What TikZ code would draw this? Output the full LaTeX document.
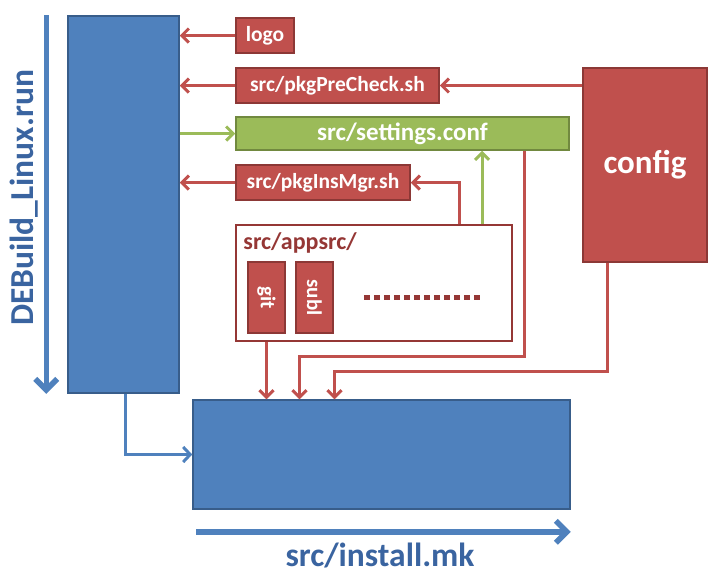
\documentclass[tikz,border=0pt]{standalone}
\usepackage{fontspec}
\setmainfont{Carlito}
\usetikzlibrary{arrows.meta}

\definecolor{boxblue}{HTML}{4F81BD}
\definecolor{lineblue}{HTML}{385D8A}
\definecolor{boxred}{HTML}{C0504D}
\definecolor{linered}{HTML}{8C3836}
\definecolor{boxgreen}{HTML}{9BBB59}
\definecolor{linegreen}{HTML}{71893F}
\definecolor{darkred}{HTML}{953735}
\definecolor{textblue}{HTML}{3A64A0}

\begin{document}
\begin{tikzpicture}[x=1pt,y=-1pt]

    \tikzstyle{box} = [draw, line width=1.5, inner sep=0, text=white, font=\bfseries\fontsize{21.5}{24}\selectfont]
    \tikzstyle{bluebox} = [box, fill=boxblue, draw=lineblue]
    \tikzstyle{redbox} = [box, fill=boxred, draw=linered]
    \tikzstyle{greenbox} = [box, fill=boxgreen, draw=linegreen]
    \tikzstyle{redarrow} = [boxred, line width=3, -{Straight Barb[length=7pt,width=14pt]}]
    \tikzstyle{greenarrow} = [boxgreen, line width=3, -{Straight Barb[length=7pt,width=14pt]}]
    \tikzstyle{bluearrow} = [boxblue, line width=3, -{Straight Barb[length=7pt,width=15pt]}]
    \tikzstyle{bigarrow} = [boxblue, line width=5.5, -{Straight Barb[length=11pt,width=22pt]}]
    \tikzstyle{biglabel} = [textblue, font=\bfseries\fontsize{33.5}{36}\selectfont]

    \useasboundingbox (0,0) rectangle (725,582);

    \node[bluebox, minimum width=111pt, minimum height=377pt] (run) at (123.5,204.5) {};
    \node[bluebox, minimum width=377pt, minimum height=109pt] (install) at (381.5,454.5) {};

    \node[redbox, minimum width=58pt, minimum height=35pt] (logo) at (265,35.5) {logo};
    \node[redbox, minimum width=203pt, minimum height=35pt] (precheck) at (337.5,85.5) {src/pkgPreCheck.sh};
    \node[greenbox, minimum width=333pt, minimum height=33pt, font=\bfseries\fontsize{25}{27}\selectfont] (settings) at (402.5,133.5) {src/settings.conf};
    \node[redbox, minimum width=174pt, minimum height=35pt] (insmgr) at (323,182.5) {src/pkgInsMgr.sh};
    \node[redbox, minimum width=124pt, minimum height=194pt, font=\bfseries\fontsize{33}{36}\selectfont] (config) at (645,165) {config};

    \node[draw=darkred, fill=white, line width=1.5, minimum width=276pt, minimum height=116pt] (appsrc) at (374,283) {};
    \node[darkred, anchor=west, inner sep=0, font=\bfseries\fontsize{24}{26}\selectfont] (appsrclabel) at ([xshift=8pt,yshift=-19pt]appsrc.north west) {src/appsrc/};
    \node[redbox, minimum width=37pt, minimum height=71pt] (git) at (266.5,297.5) {};
    \node[redbox, minimum width=37pt, minimum height=71pt] (subl) at (314.5,297.5) {};
    \node[white, rotate=-90, font=\bfseries\fontsize{21}{22}\selectfont] (gitlabel) at (git) {git};
    \node[white, rotate=-90, font=\bfseries\fontsize{21}{22}\selectfont] (subllabel) at (subl) {subl};
    \draw[darkred, line width=5, dash pattern=on 6pt off 4pt] ([xshift=30pt]subl.east) -- ++(117,0);

    \draw[redarrow] (logo.west) -- (logo.west -| run.east);
    \draw[redarrow] (precheck.west) -- (precheck.west -| run.east);
    \draw[greenarrow] (settings.west -| run.east) -- (settings.west);
    \draw[redarrow] (insmgr.west) -- (insmgr.west -| run.east);
    \draw[redarrow] (precheck.east -| config.west) -- (precheck.east);

    \draw[redarrow] ([xshift=85pt]appsrc.north) |- (insmgr.east);
    \draw[greenarrow] ([xshift=108pt]appsrc.north) -- ([xshift=108pt]appsrc.north |- settings.south);
    \draw[redarrow] (appsrc.south -| git) -- (install.north -| git);
    \draw[redarrow] ([xshift=122pt]settings.south) -- ++(0,206) -| ([xshift=-82pt]install.north);
    \draw[redarrow] ([xshift=-38pt]config.south) -- ++(0,109) -| ([xshift=-47pt]install.north);
    \draw[bluearrow] ([xshift=1.5pt]run.south) |- (install.west);

    \draw[bigarrow] ([xshift=-21pt]run.north west) -- ([xshift=-21pt]run.south west);
    \node[biglabel, rotate=90] (runlabel) at (24,198) {DEBuild\_Linux.run};
    \draw[bigarrow] ([xshift=4pt,yshift=-22pt]install.south west) -- ([xshift=0pt,yshift=-22pt]install.south east);
    \node[biglabel] (installlabel) at (380,555) {src/install.mk};

\end{tikzpicture}
\end{document}
